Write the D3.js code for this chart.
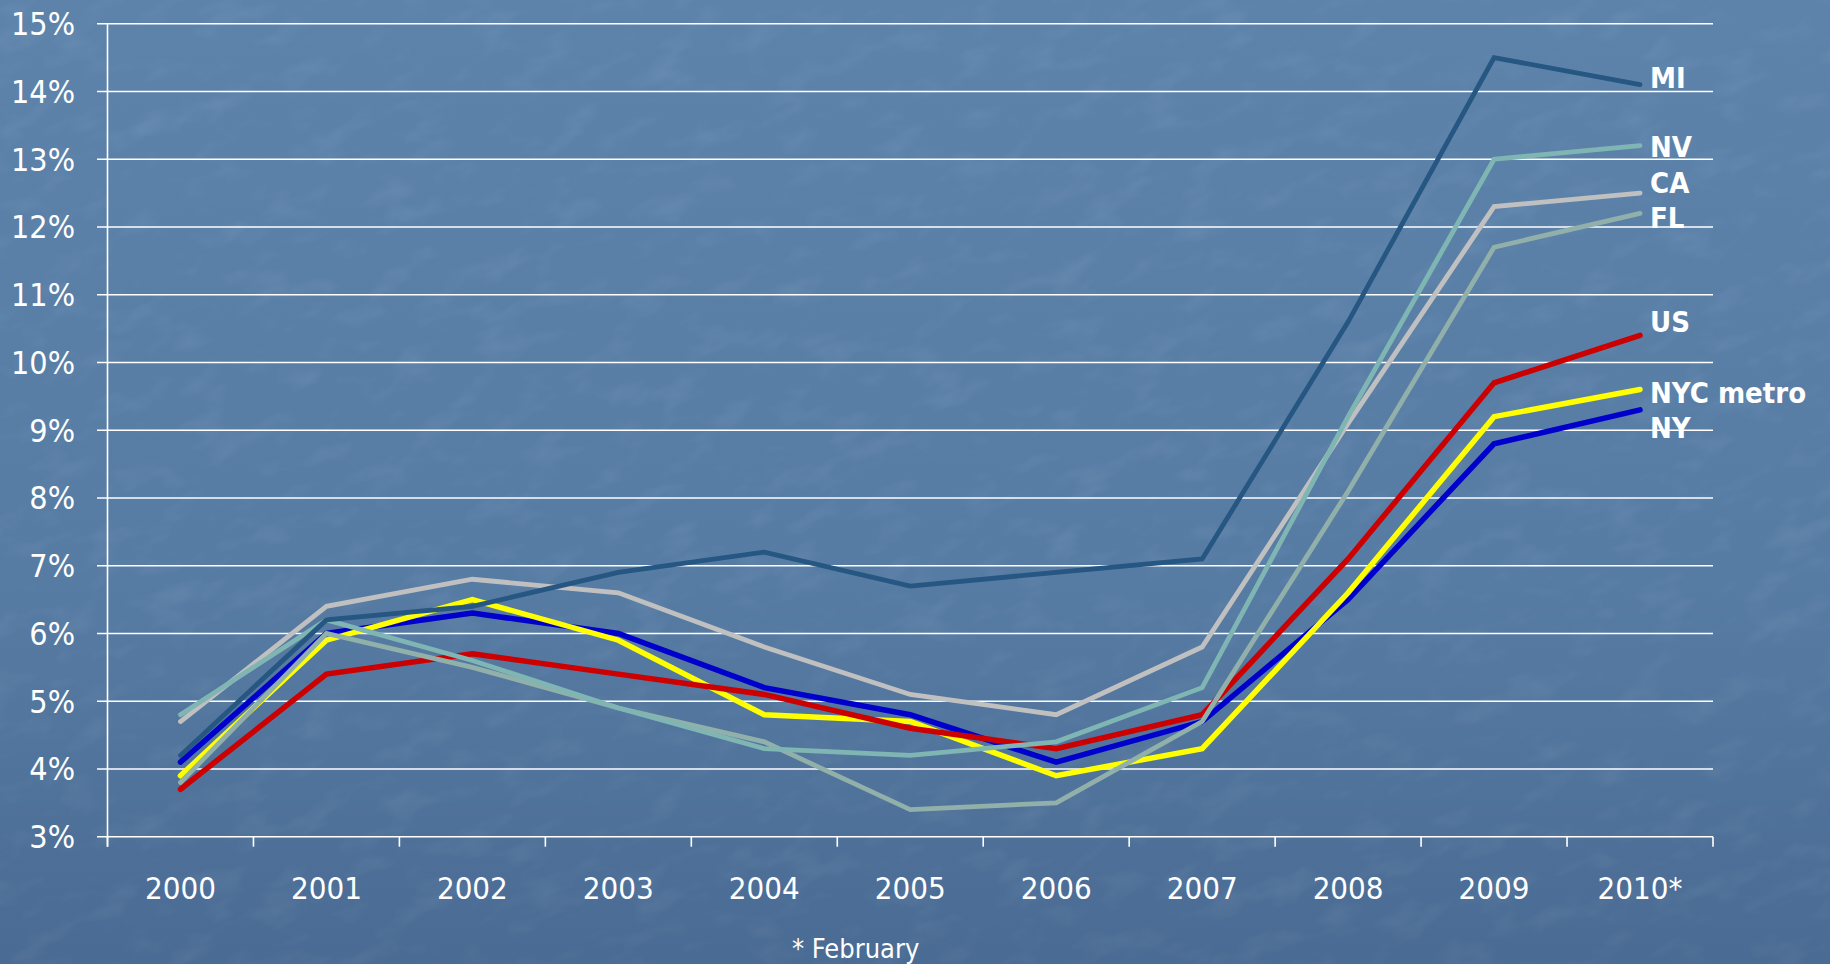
<!DOCTYPE html>
<html>
<head>
<meta charset="utf-8">
<script src="https://cdn.jsdelivr.net/npm/d3@7/dist/d3.min.js"></script>
<style>
  html, body { margin: 0; padding: 0; background: #55799f; }
  svg { display: block; }
  .tick-label { font-family: "DejaVu Sans Condensed", "DejaVu Sans", sans-serif; font-stretch: semi-condensed; fill: #ffffff; }
  .series-label { font-family: "DejaVu Sans Condensed", "DejaVu Sans", sans-serif; font-stretch: semi-condensed; font-weight: bold; fill: #ffffff; }
</style>
</head>
<body>
<svg id="chart" width="1830" height="964"></svg>
<script>
// ---------- DATA ----------
const years = ["2000","2001","2002","2003","2004","2005","2006","2007","2008","2009","2010*"];
const yTicks = [3,4,5,6,7,8,9,10,11,12,13,14,15];
const seriesNames = ["NY","NYC metro","US","CA","FL","NV","MI"];
const ny      = [4.1, 6.0, 6.3, 6.0, 5.2, 4.8, 4.1, 4.7, 6.5, 8.8, 9.3];
const nycMetro= [3.9, 5.9, 6.5, 5.9, 4.8, 4.7, 3.9, 4.3, 6.6, 9.2, 9.6];
const us      = [3.7, 5.4, 5.7, 5.4, 5.1, 4.6, 4.3, 4.8, 7.1, 9.7, 10.4];
const ca      = [4.7, 6.4, 6.8, 6.6, 5.8, 5.1, 4.8, 5.8, 9.1, 12.3, 12.5];
const fl      = [3.8, 6.0, 5.5, 4.9, 4.4, 3.4, 3.5, 4.7, 8.1, 11.7, 12.2];
const nv      = [4.8, 6.2, 5.6, 4.9, 4.3, 4.2, 4.4, 5.2, 9.2, 13.0, 13.2];
const mi      = [4.2, 6.2, 6.4, 6.9, 7.2, 6.7, 6.9, 7.1, 10.6, 14.5, 14.1];
const footnote = "* February";

// ---------- STYLE / LAYOUT ----------
const seriesValues = [ny, nycMetro, us, ca, fl, nv, mi];
const seriesColors = ["#0000cc", "#ffff00", "#cc0000", "#c0c0c0", "#91b0aa", "#7fb5b3", "#265682"];
const seriesWidths = [5.5, 5.5, 5.5, 4.8, 4.8, 4.8, 4.8];
const labelDy = [18, 3, -14, -11, 4, 1, -7]; // label offset (px) from line end

const W = 1830, H = 964;
const svg = d3.select("#chart");
const defs = svg.append("defs");

const grad = defs.append("linearGradient").attr("id", "bg").attr("x1", 0).attr("y1", 0).attr("x2", 0).attr("y2", 1);
grad.append("stop").attr("offset", "0%").attr("stop-color", "#5d83ab");
grad.append("stop").attr("offset", "60%").attr("stop-color", "#577ca4");
grad.append("stop").attr("offset", "100%").attr("stop-color", "#4a6b93");

const filt = defs.append("filter").attr("id", "tex").attr("x", 0).attr("y", 0).attr("width", "100%").attr("height", "100%");
filt.append("feTurbulence").attr("type", "fractalNoise").attr("baseFrequency", "0.02 0.04").attr("numOctaves", 3).attr("seed", 7).attr("result", "n");
filt.append("feColorMatrix").attr("in", "n").attr("type", "matrix")
  .attr("values", "0 0 0 0 1  0 0 0 0 1  0 0 0 0 1  1.1 0 0 0 -0.55");

svg.append("rect").attr("width", W).attr("height", H).attr("fill", "url(#bg)");
svg.append("g").attr("transform", "rotate(-20 915 482)")
  .append("rect").attr("x", -300).attr("y", -400).attr("width", W + 600).attr("height", H + 800)
  .attr("filter", "url(#tex)").attr("opacity", 0.13);

const x = d3.scaleBand().domain(years).range([107.5, 1713]).paddingInner(0).paddingOuter(0);
const y = d3.scaleLinear().domain([3, 15]).range([836.7, 23.7]);

// gridlines + y ticks
const g = svg.append("g");
g.selectAll("line.grid").data(yTicks).enter().append("line")
  .attr("x1", 97).attr("x2", 1713)
  .attr("y1", d => y(d)).attr("y2", d => y(d))
  .attr("stroke", "#ffffff").attr("stroke-width", 1.6);

// y axis line
g.append("line").attr("x1", x.range()[0]).attr("x2", x.range()[0])
  .attr("y1", y(15)).attr("y2", y(3) + 10).attr("stroke", "#ffffff").attr("stroke-width", 1.6);

// x ticks (band boundaries)
const bounds = years.map(d => x(d)).concat([x(years[years.length - 1]) + x.bandwidth()]);
g.selectAll("line.xt").data(bounds).enter().append("line")
  .attr("x1", d => d).attr("x2", d => d)
  .attr("y1", y(3)).attr("y2", y(3) + 10)
  .attr("stroke", "#ffffff").attr("stroke-width", 1.6);

// y tick labels
g.selectAll("text.yl").data(yTicks).enter().append("text")
  .attr("class", "tick-label")
  .attr("x", 75).attr("y", d => y(d)).attr("dy", "0.36em")
  .attr("text-anchor", "end").attr("font-size", 32)
  .text(d => d + "%");

// x tick labels
g.selectAll("text.xl").data(years).enter().append("text")
  .attr("class", "tick-label")
  .attr("x", d => x(d) + x.bandwidth() / 2).attr("y", 899)
  .attr("text-anchor", "middle").attr("font-size", 31)
  .text(d => d);

// footnote
g.append("text").attr("class", "tick-label")
  .attr("x", 792).attr("y", 958).attr("font-size", 27)
  .text(footnote);

// lines
const line = d3.line()
  .x((d, i) => x(years[i]) + x.bandwidth() / 2)
  .y(d => y(d));

const lg = svg.append("g");
seriesValues.forEach((vals, k) => {
  lg.append("path").datum(vals)
    .attr("d", line)
    .attr("fill", "none")
    .attr("stroke", seriesColors[k])
    .attr("stroke-width", seriesWidths[k])
    .attr("stroke-linejoin", "miter")
    .attr("stroke-linecap", "round");
});

// series labels at line ends
const lastX = x(years[years.length - 1]) + x.bandwidth() / 2;
seriesNames.forEach((name, k) => {
  const v = seriesValues[k][seriesValues[k].length - 1];
  lg.append("text").attr("class", "series-label")
    .attr("x", lastX + 10)
    .attr("y", y(v) + labelDy[k])
    .attr("dy", "0.36em")
    .attr("font-size", 29)
    .text(name);
});
</script>
</body>
</html>
